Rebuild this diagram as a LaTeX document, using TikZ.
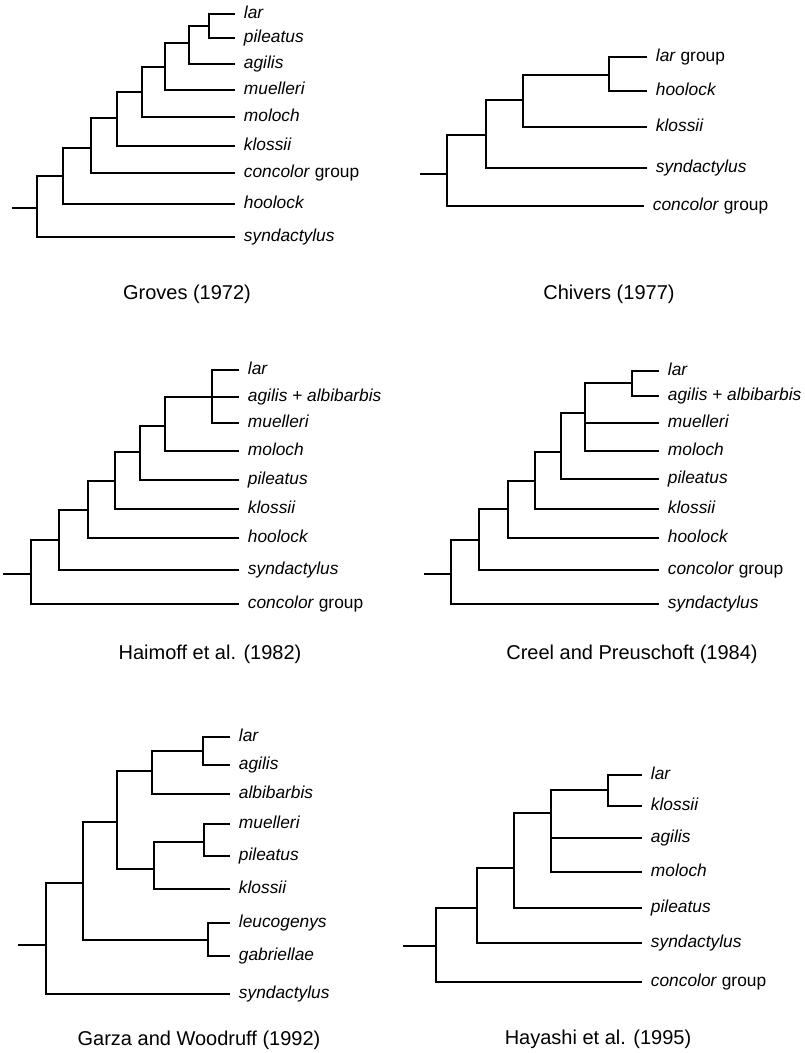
\documentclass[tikz,border=0pt]{standalone}
\usepackage{fontspec}
\setmainfont{Liberation Sans}

\begin{document}
\begin{tikzpicture}[x=0.75pt, y=-0.75pt,
    branch/.style={line width=1.7pt},
    leaf/.style={anchor=west, inner xsep=6.5pt, inner ysep=0pt, text height=1.4ex, text depth=0pt, font=\fontsize{13}{15}\selectfont\itshape},
    title/.style={text height=1.4ex, text depth=0pt, font=\fontsize{15}{18}\selectfont}]
    \useasboundingbox (0,0) rectangle (804,1053);

    % Titles of the six trees
    \node[title] (title1) at (187,295) {Groves (1972)};
    \node[title] (title2) at (609,295) {Chivers (1977)};
    \node[title] (title3) at (210,655) {Haimoff et al. (1982)};
    \node[title] (title4) at (632,655) {Creel and Preuschoft (1984)};
    \node[title] (title5) at (199,1041) {Garza and Woodruff (1992)};
    \node[title] (title6) at (598,1040) {Hayashi et al. (1995)};

    % Groves (1972)
    \coordinate (root1) at (12,208);
    \coordinate (node1a) at (37,208);
    \coordinate (node1b) at (63,176);
    \coordinate (node1c) at (91,148);
    \coordinate (node1d) at (117,118);
    \coordinate (node1e) at (142,92);
    \coordinate (node1f) at (165,67);
    \coordinate (node1g) at (189,43);
    \coordinate (node1h) at (209,26);
    \node[leaf] (lar1) at (235,14) {lar};
    \node[leaf] (pil1) at (235,38) {pileatus};
    \node[leaf] (agi1) at (235,64) {agilis};
    \node[leaf] (mue1) at (235,90) {muelleri};
    \node[leaf] (mol1) at (235,117) {moloch};
    \node[leaf] (klo1) at (235,146) {klossii};
    \node[leaf] (con1) at (235,173) {concolor \textup{group}};
    \node[leaf] (hoo1) at (235,204) {hoolock};
    \node[leaf] (syn1) at (235,237) {syndactylus};
    \draw[branch] (root1) -- (node1a);
    \draw[branch] (node1a) |- (node1b);
    \draw[branch] (node1a) |- (syn1);
    \draw[branch] (node1b) |- (node1c);
    \draw[branch] (node1b) |- (hoo1);
    \draw[branch] (node1c) |- (node1d);
    \draw[branch] (node1c) |- (con1);
    \draw[branch] (node1d) |- (node1e);
    \draw[branch] (node1d) |- (klo1);
    \draw[branch] (node1e) |- (node1f);
    \draw[branch] (node1e) |- (mol1);
    \draw[branch] (node1f) |- (node1g);
    \draw[branch] (node1f) |- (mue1);
    \draw[branch] (node1g) |- (node1h);
    \draw[branch] (node1g) |- (agi1);
    \draw[branch] (node1h) |- (lar1);
    \draw[branch] (node1h) |- (pil1);

    % Chivers (1977)
    \coordinate (root2) at (420,174);
    \coordinate (node2a) at (447,174);
    \coordinate (node2b) at (486,135);
    \coordinate (node2c) at (523,100);
    \coordinate (node2d) at (609,75);
    \node[leaf] (lar2) at (647,57) {lar \textup{group}};
    \node[leaf] (hoo2) at (647,91) {hoolock};
    \node[leaf] (klo2) at (647,127) {klossii};
    \node[leaf] (syn2) at (647,168) {syndactylus};
    \node[leaf] (con2) at (644,206) {concolor \textup{group}};
    \draw[branch] (root2) -- (node2a);
    \draw[branch] (node2a) |- (node2b);
    \draw[branch] (node2a) |- (con2);
    \draw[branch] (node2b) |- (node2c);
    \draw[branch] (node2b) |- (syn2);
    \draw[branch] (node2c) |- (node2d);
    \draw[branch] (node2c) |- (klo2);
    \draw[branch] (node2d) |- (lar2);
    \draw[branch] (node2d) |- (hoo2);

    % Haimoff et al. (1982)
    \coordinate (root3) at (3,574);
    \coordinate (node3a) at (31,574);
    \coordinate (node3b) at (59,540);
    \coordinate (node3c) at (88,510);
    \coordinate (node3d) at (115,481);
    \coordinate (node3e) at (140,452);
    \coordinate (node3f) at (165,426);
    \coordinate (node3g) at (212,397);
    \node[leaf] (lar3) at (239,370) {lar};
    \node[leaf] (agi3) at (239,397) {agilis + albibarbis};
    \node[leaf] (mue3) at (239,423) {muelleri};
    \node[leaf] (mol3) at (239,451) {moloch};
    \node[leaf] (pil3) at (239,480) {pileatus};
    \node[leaf] (klo3) at (239,509) {klossii};
    \node[leaf] (hoo3) at (239,538) {hoolock};
    \node[leaf] (syn3) at (239,570) {syndactylus};
    \node[leaf] (con3) at (239,604) {concolor \textup{group}};
    \draw[branch] (root3) -- (node3a);
    \draw[branch] (node3a) |- (node3b);
    \draw[branch] (node3a) |- (con3);
    \draw[branch] (node3b) |- (node3c);
    \draw[branch] (node3b) |- (syn3);
    \draw[branch] (node3c) |- (node3d);
    \draw[branch] (node3c) |- (hoo3);
    \draw[branch] (node3d) |- (node3e);
    \draw[branch] (node3d) |- (klo3);
    \draw[branch] (node3e) |- (node3f);
    \draw[branch] (node3e) |- (pil3);
    \draw[branch] (node3f) |- (node3g);
    \draw[branch] (node3f) |- (mol3);
    \draw[branch] (node3g) |- (lar3);
    \draw[branch] (node3g) |- (agi3);
    \draw[branch] (node3g) |- (mue3);

    % Creel and Preuschoft (1984)
    \coordinate (root4) at (424,574);
    \coordinate (node4a) at (451,574);
    \coordinate (node4b) at (479,540);
    \coordinate (node4c) at (508,509);
    \coordinate (node4d) at (535,481);
    \coordinate (node4e) at (561,452);
    \coordinate (node4f) at (585,413);
    \coordinate (node4g) at (632,383);
    \node[leaf] (lar4) at (659,371) {lar};
    \node[leaf] (agi4) at (659,396) {agilis + albibarbis};
    \node[leaf] (mue4) at (659,423) {muelleri};
    \node[leaf] (mol4) at (659,451) {moloch};
    \node[leaf] (pil4) at (659,479) {pileatus};
    \node[leaf] (klo4) at (659,509) {klossii};
    \node[leaf] (hoo4) at (659,538) {hoolock};
    \node[leaf] (con4) at (659,570) {concolor \textup{group}};
    \node[leaf] (syn4) at (659,604) {syndactylus};
    \draw[branch] (root4) -- (node4a);
    \draw[branch] (node4a) |- (node4b);
    \draw[branch] (node4a) |- (syn4);
    \draw[branch] (node4b) |- (node4c);
    \draw[branch] (node4b) |- (con4);
    \draw[branch] (node4c) |- (node4d);
    \draw[branch] (node4c) |- (hoo4);
    \draw[branch] (node4d) |- (node4e);
    \draw[branch] (node4d) |- (klo4);
    \draw[branch] (node4e) |- (node4f);
    \draw[branch] (node4e) |- (pil4);
    \draw[branch] (node4f) |- (node4g);
    \draw[branch] (node4f) |- (mue4);
    \draw[branch] (node4f) |- (mol4);
    \draw[branch] (node4g) |- (lar4);
    \draw[branch] (node4g) |- (agi4);

    % Garza and Woodruff (1992)
    \coordinate (root5) at (18,945);
    \coordinate (node5a) at (46,945);
    \coordinate (node5b) at (83,883);
    \coordinate (node5c) at (117,822);
    \coordinate (node5d) at (152,771);
    \coordinate (node5e) at (203,751);
    \coordinate (node5f) at (154,869);
    \coordinate (node5g) at (204,842);
    \coordinate (node5h) at (208,940);
    \node[leaf] (lar5) at (230,737) {lar};
    \node[leaf] (agi5) at (230,765) {agilis};
    \node[leaf] (alb5) at (230,794) {albibarbis};
    \node[leaf] (mue5) at (230,824) {muelleri};
    \node[leaf] (pil5) at (230,856) {pileatus};
    \node[leaf] (klo5) at (230,889) {klossii};
    \node[leaf] (leu5) at (230,923) {leucogenys};
    \node[leaf] (gab5) at (230,956) {gabriellae};
    \node[leaf] (syn5) at (230,994) {syndactylus};
    \draw[branch] (root5) -- (node5a);
    \draw[branch] (node5a) |- (node5b);
    \draw[branch] (node5a) |- (syn5);
    \draw[branch] (node5b) |- (node5c);
    \draw[branch] (node5b) |- (node5h);
    \draw[branch] (node5c) |- (node5d);
    \draw[branch] (node5c) |- (node5f);
    \draw[branch] (node5d) |- (node5e);
    \draw[branch] (node5d) |- (alb5);
    \draw[branch] (node5e) |- (lar5);
    \draw[branch] (node5e) |- (agi5);
    \draw[branch] (node5f) |- (node5g);
    \draw[branch] (node5f) |- (klo5);
    \draw[branch] (node5g) |- (mue5);
    \draw[branch] (node5g) |- (pil5);
    \draw[branch] (node5h) |- (leu5);
    \draw[branch] (node5h) |- (gab5);

    % Hayashi et al. (1995)
    \coordinate (root6) at (403,946);
    \coordinate (node6a) at (436,946);
    \coordinate (node6b) at (477,908);
    \coordinate (node6c) at (514,868);
    \coordinate (node6d) at (551,813);
    \coordinate (node6e) at (608,790);
    \node[leaf] (lar6) at (642,775) {lar};
    \node[leaf] (klo6) at (642,806) {klossii};
    \node[leaf] (agi6) at (642,838) {agilis};
    \node[leaf] (mol6) at (642,872) {moloch};
    \node[leaf] (pil6) at (642,908) {pileatus};
    \node[leaf] (syn6) at (642,943) {syndactylus};
    \node[leaf] (con6) at (642,982) {concolor \textup{group}};
    \draw[branch] (root6) -- (node6a);
    \draw[branch] (node6a) |- (node6b);
    \draw[branch] (node6a) |- (con6);
    \draw[branch] (node6b) |- (node6c);
    \draw[branch] (node6b) |- (syn6);
    \draw[branch] (node6c) |- (node6d);
    \draw[branch] (node6c) |- (pil6);
    \draw[branch] (node6d) |- (node6e);
    \draw[branch] (node6d) |- (agi6);
    \draw[branch] (node6d) |- (mol6);
    \draw[branch] (node6e) |- (lar6);
    \draw[branch] (node6e) |- (klo6);
\end{tikzpicture}
\end{document}
